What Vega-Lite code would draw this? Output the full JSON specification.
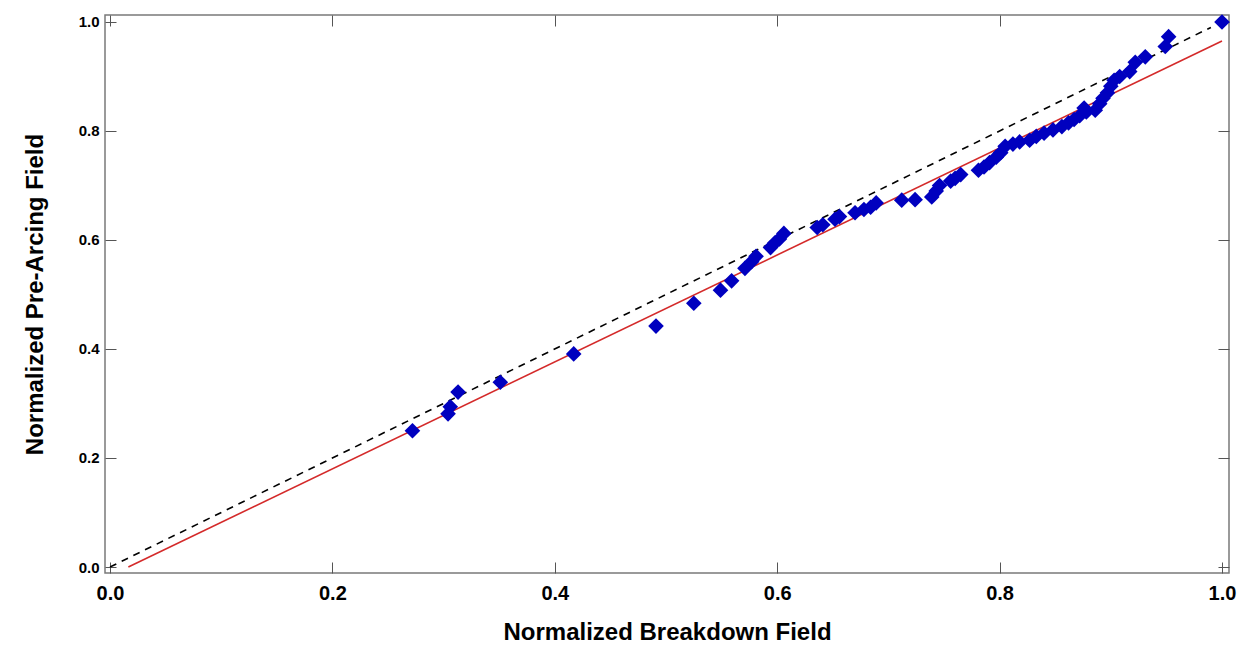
{
  "$schema": "https://vega.github.io/schema/vega-lite/v6.json",
  "width": 1124,
  "height": 558,
  "autosize": "none",
  "padding": {"left": 105, "top": 15, "right": 12, "bottom": 75},
  "background": "white",
  "config": {
    "font": "Liberation Sans",
    "view": {"stroke": "#7a7a7a", "strokeWidth": 1.5}
  },
  "datasets": {
    "points": [
      {"breakdown": 0.272, "prearcing": 0.250},
      {"breakdown": 0.304, "prearcing": 0.281},
      {"breakdown": 0.306, "prearcing": 0.294},
      {"breakdown": 0.313, "prearcing": 0.321},
      {"breakdown": 0.351, "prearcing": 0.339},
      {"breakdown": 0.417, "prearcing": 0.391},
      {"breakdown": 0.491, "prearcing": 0.442},
      {"breakdown": 0.525, "prearcing": 0.484},
      {"breakdown": 0.549, "prearcing": 0.508},
      {"breakdown": 0.559, "prearcing": 0.525},
      {"breakdown": 0.571, "prearcing": 0.548},
      {"breakdown": 0.577, "prearcing": 0.560},
      {"breakdown": 0.581, "prearcing": 0.570},
      {"breakdown": 0.594, "prearcing": 0.586},
      {"breakdown": 0.598, "prearcing": 0.595},
      {"breakdown": 0.602, "prearcing": 0.602},
      {"breakdown": 0.606, "prearcing": 0.612},
      {"breakdown": 0.636, "prearcing": 0.623},
      {"breakdown": 0.641, "prearcing": 0.628},
      {"breakdown": 0.652, "prearcing": 0.638},
      {"breakdown": 0.656, "prearcing": 0.643},
      {"breakdown": 0.670, "prearcing": 0.650},
      {"breakdown": 0.678, "prearcing": 0.656},
      {"breakdown": 0.684, "prearcing": 0.660},
      {"breakdown": 0.689, "prearcing": 0.668},
      {"breakdown": 0.712, "prearcing": 0.673},
      {"breakdown": 0.724, "prearcing": 0.674},
      {"breakdown": 0.739, "prearcing": 0.679},
      {"breakdown": 0.743, "prearcing": 0.690},
      {"breakdown": 0.746, "prearcing": 0.700},
      {"breakdown": 0.756, "prearcing": 0.708},
      {"breakdown": 0.760, "prearcing": 0.713},
      {"breakdown": 0.765, "prearcing": 0.720},
      {"breakdown": 0.781, "prearcing": 0.728},
      {"breakdown": 0.786, "prearcing": 0.734},
      {"breakdown": 0.791, "prearcing": 0.742},
      {"breakdown": 0.797, "prearcing": 0.752},
      {"breakdown": 0.801, "prearcing": 0.760},
      {"breakdown": 0.805, "prearcing": 0.772},
      {"breakdown": 0.812, "prearcing": 0.776},
      {"breakdown": 0.818, "prearcing": 0.780},
      {"breakdown": 0.827, "prearcing": 0.783},
      {"breakdown": 0.833, "prearcing": 0.790},
      {"breakdown": 0.840, "prearcing": 0.796},
      {"breakdown": 0.848, "prearcing": 0.802},
      {"breakdown": 0.856, "prearcing": 0.808},
      {"breakdown": 0.862, "prearcing": 0.815},
      {"breakdown": 0.867, "prearcing": 0.821},
      {"breakdown": 0.872, "prearcing": 0.828},
      {"breakdown": 0.876, "prearcing": 0.842},
      {"breakdown": 0.878, "prearcing": 0.835},
      {"breakdown": 0.886, "prearcing": 0.838},
      {"breakdown": 0.890, "prearcing": 0.850},
      {"breakdown": 0.893, "prearcing": 0.860},
      {"breakdown": 0.897, "prearcing": 0.870},
      {"breakdown": 0.900, "prearcing": 0.882},
      {"breakdown": 0.903, "prearcing": 0.893},
      {"breakdown": 0.908, "prearcing": 0.900},
      {"breakdown": 0.917, "prearcing": 0.909},
      {"breakdown": 0.922, "prearcing": 0.926},
      {"breakdown": 0.931, "prearcing": 0.936},
      {"breakdown": 0.949, "prearcing": 0.955},
      {"breakdown": 0.952, "prearcing": 0.973},
      {"breakdown": 1.000, "prearcing": 1.000}
    ],
    "lines": [
      {"series": "Equality", "breakdown": 0.0, "prearcing": 0.0},
      {"series": "Equality", "breakdown": 0.99, "prearcing": 0.99},
      {"series": "Fit", "breakdown": 0.0165, "prearcing": 0.0},
      {"series": "Fit", "breakdown": 1.0, "prearcing": 0.965}
    ]
  },
  "layer": [
    {
      "data": {"name": "lines"},
      "transform": [{"filter": "datum.series === 'Equality'"}],
      "mark": {"type": "line", "color": "black", "strokeDash": [7, 6], "strokeWidth": 1.6},
      "encoding": {
        "x": {
          "field": "breakdown", "type": "quantitative",
          "scale": {"domain": [-0.0045, 1.0063], "nice": false, "zero": false},
          "axis": {"orient": "top", "values": [0, 0.2, 0.4, 0.6, 0.8, 1.0], "labels": false, "title": null, "domain": false, "grid": false, "tickSize": -11, "tickColor": "#555555", "tickWidth": 1}
        },
        "y": {
          "field": "prearcing", "type": "quantitative",
          "scale": {"domain": [-0.011, 1.0128], "nice": false, "zero": false},
          "axis": {"orient": "right", "values": [0, 0.2, 0.4, 0.6, 0.8, 1.0], "labels": false, "title": null, "domain": false, "grid": false, "tickSize": -11, "tickColor": "#555555", "tickWidth": 1}
        }
      }
    },
    {
      "data": {"name": "lines"},
      "transform": [{"filter": "datum.series === 'Fit'"}],
      "mark": {"type": "line", "color": "#d42a2a", "strokeWidth": 1.6},
      "encoding": {
        "x": {"field": "breakdown", "type": "quantitative", "axis": null},
        "y": {"field": "prearcing", "type": "quantitative", "axis": null}
      }
    },
    {
      "data": {"name": "points"},
      "mark": {"type": "point", "shape": "diamond", "filled": true, "color": "#0000bf", "opacity": 1, "size": 245},
      "encoding": {
        "x": {
          "field": "breakdown", "type": "quantitative",
          "axis": {"orient": "bottom", "values": [0, 0.2, 0.4, 0.6, 0.8, 1.0], "format": ".1f", "domain": false, "grid": false, "tickSize": -11, "tickColor": "#555555", "tickWidth": 1, "labelPadding": 21, "labelFontSize": 20, "labelFontWeight": "bold", "labelColor": "black", "title": "Normalized Breakdown Field", "titleFontSize": 24, "titleFontWeight": "bold", "titleColor": "black", "titlePadding": 17}
        },
        "y": {
          "field": "prearcing", "type": "quantitative",
          "axis": {"orient": "left", "values": [0, 0.2, 0.4, 0.6, 0.8, 1.0], "format": ".1f", "domain": false, "grid": false, "tickSize": -11, "tickColor": "#555555", "tickWidth": 1, "labelPadding": 17, "labelFontSize": 15, "labelFontWeight": "bold", "labelColor": "black", "title": "Normalized Pre-Arcing Field", "titleFontSize": 24, "titleFontWeight": "bold", "titleColor": "black", "titlePadding": 31}
        }
      }
    }
  ],
  "resolve": {"axis": {"x": "independent", "y": "independent"}}
}
